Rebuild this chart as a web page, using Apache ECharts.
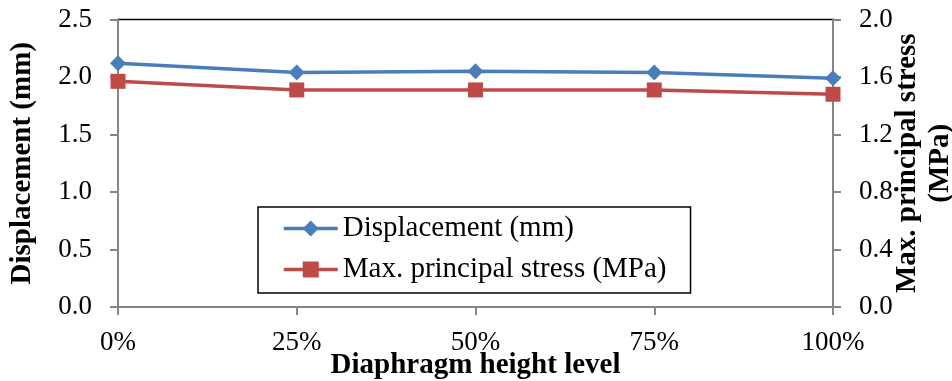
<!DOCTYPE html>
<html><head><meta charset="utf-8">
<script src="https://cdn.jsdelivr.net/npm/echarts@6/dist/echarts.min.js"></script>
<style>html,body{margin:0;padding:0;background:#fff}#c{width:952px;height:381px}</style>
</head><body><div id="c"></div>
<script>
const categories = ['0%', '25%', '50%', '75%', '100%'];
const displacement = [2.12, 2.04, 2.05, 2.04, 1.99];
const stress = [1.57, 1.51, 1.51, 1.51, 1.48];
const seriesNames = ['Displacement (mm)', 'Max. principal stress (MPa)'];

const FONT = '"Liberation Serif", "Times New Roman", serif';
const chart = echarts.init(document.getElementById('c'), null, {renderer: 'canvas'});
const axisGray = '#868686';
chart.setOption({
  animation: false,
  textStyle: {fontFamily: FONT},
  grid: {left: 118, right: 119, top: 19.5, bottom: 74, containLabel: false, outerBoundsMode: 'none',
         show: true, borderColor: '#000', borderWidth: 1.5, backgroundColor: 'transparent'},
  legend: {
    orient: 'vertical', left: 258, top: 207,
    itemWidth: 54, itemHeight: 20, itemGap: 12,
    padding: [7, 24, 9, 24],
    borderColor: '#000', borderWidth: 1.5,
    lineStyle: {width: 3.5},
    textStyle: {fontFamily: FONT, fontSize: 29, color: '#000'},
    data: seriesNames
  },
  xAxis: {
    type: 'category', data: categories, boundaryGap: false,
    name: 'Diaphragm height level', nameLocation: 'middle', nameGap: 44, nameMoveOverlap: false,
    nameTextStyle: {fontFamily: FONT, fontSize: 29, fontWeight: 'bold', color: '#000'},
    axisLine: {lineStyle: {color: axisGray, width: 2}},
    axisTick: {show: true, length: 8, lineStyle: {color: axisGray, width: 2}, alignWithLabel: true},
    axisLabel: {fontFamily: FONT, fontSize: 27, color: '#000', margin: 22},
    splitLine: {show: false}
  },
  yAxis: [{
    type: 'value', min: 0, max: 2.5, interval: 0.5, position: 'left',
    name: 'Displacement (mm)', nameLocation: 'middle', nameGap: 81, nameRotate: 90, nameMoveOverlap: false,
    nameTextStyle: {fontFamily: FONT, fontSize: 29, fontWeight: 'bold', color: '#000'},
    axisLine: {show: true, lineStyle: {color: axisGray, width: 2}},
    axisTick: {show: true, length: 8, lineStyle: {color: axisGray, width: 2}},
    axisLabel: {fontFamily: FONT, fontSize: 27, color: '#000', margin: 26, formatter: v => v.toFixed(1)},
    splitLine: {show: false}
  }, {
    type: 'value', min: 0, max: 2.0, interval: 0.4, position: 'right',
    name: 'Max. principal stress\n(MPa)', nameLocation: 'middle', nameGap: 58, nameRotate: 90, nameMoveOverlap: false,
    nameTextStyle: {fontFamily: FONT, fontSize: 29, fontWeight: 'bold', color: '#000', lineHeight: 33},
    axisLine: {show: true, lineStyle: {color: axisGray, width: 2}},
    axisTick: {show: true, length: 8, lineStyle: {color: axisGray, width: 2}},
    axisLabel: {fontFamily: FONT, fontSize: 27, color: '#000', margin: 26, formatter: v => v.toFixed(1)},
    splitLine: {show: false}
  }],
  series: [{
    name: seriesNames[0], type: 'line', yAxisIndex: 0, data: displacement,
    symbol: 'diamond', symbolSize: 16,
    lineStyle: {color: '#4a7ebb', width: 3.5},
    itemStyle: {color: '#4a7ebb'}
  }, {
    name: seriesNames[1], type: 'line', yAxisIndex: 1, data: stress,
    symbol: 'rect', symbolSize: 15,
    lineStyle: {color: '#be4b48', width: 3.5},
    itemStyle: {color: '#be4b48'}
  }]
});
</script></body></html>
